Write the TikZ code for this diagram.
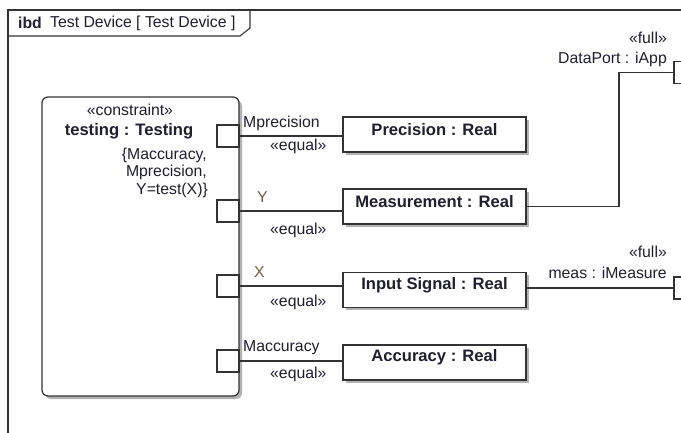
\documentclass[tikz,border=0pt]{standalone}
\usepackage{fontspec}
\setmainfont{Liberation Sans}
\usetikzlibrary{calc}
\definecolor{ln}{rgb}{0.2,0.2,0.2}
\definecolor{txt}{rgb}{0.12,0.12,0.18}
\definecolor{olive}{rgb}{0.42,0.38,0.25}
\tikzset{
  reg/.style={inner sep=0pt, text=txt, font=\fontsize{15.8}{18}\selectfont},
  bld/.style={inner sep=0pt, text=txt, font=\fontsize{16.6}{19}\selectfont\bfseries},
  valbox/.style={draw=ln, line width=1.2pt, fill=white, minimum width=183pt, minimum height=35pt, inner sep=0pt},
  portbox/.style={draw=ln, line width=1.1pt, fill=white, minimum width=22pt, minimum height=22pt, inner sep=0pt},
  conn/.style={draw=ln, line width=1.1pt},
  shadowfill/.style={fill=black!30, draw=none}
}
\begin{document}
\begin{tikzpicture}[x=1pt,y=-1pt]
\useasboundingbox (0,0) rectangle (681,432);
\clip (0,0) rectangle (681,432);
\fill[white] (0,0) rectangle (681,432);
% frame
\draw[ln, line width=1.1pt] (8,445) -- (8,10) -- (695,10);
\draw[ln, line width=1.1pt] (8,36) -- (240,36) -- (250,28) -- (250,10);
\node[bld, anchor=west, font=\fontsize{15.8}{18}\selectfont\bfseries] (ibd) at (18,23) {ibd};
\node[reg, anchor=west] (title) at (50,23) {Test Device [ Test Device ]};
% constraint block
\fill[shadowfill, rounded corners=6pt] (45,100) rectangle (242,399);
\draw[ln, line width=1.2pt, fill=white, rounded corners=6pt] (42,97) rectangle (239,396);
\node[reg] (stereo) at (130,110) {«constraint»};
\node[bld] (cname) at (129,131) {testing : Testing};
\node[reg, anchor=east] (c1) at (207,155) {\{Maccuracy,};
\node[reg, anchor=east] (c2) at (207,172) {Mprecision,};
\node[reg, anchor=east] (c3) at (208,190) {Y=test(X)\}};
% ports on constraint
\node[portbox] (p1) at (228,136) {};
\node[portbox] (p2) at (228,211) {};
\node[portbox] (p3) at (228,286) {};
\node[portbox] (p4) at (228,361) {};
% value boxes with shadows
\foreach \yy in {117,189,272,345} {
  \fill[shadowfill] (346,\yy+3) rectangle (529,\yy+38);
}
\node[valbox] (prec) at (434.5,134.5) {};
\node[valbox] (meas) at (434.5,206.5) {};
\node[valbox] (inp) at (434.5,290) {};
\node[valbox] (acc) at (434.5,362.5) {};
\node[bld] (tprec) at ($(prec.north)+(0,13)$) {Precision : Real};
\node[bld] (tmeas) at ($(meas.north)+(0,13)$) {Measurement : Real};
\node[bld] (tinp) at ($(inp.north)+(0,13)$) {Input Signal : Real};
\node[bld] (tacc) at ($(acc.north)+(0,13)$) {Accuracy : Real};
% connectors
\draw[conn] (p1.east) -- (p1.east -| prec.west);
\draw[conn] (p2.east) -- (p2.east -| meas.west);
\draw[conn] (p3.east) -- (p3.east -| inp.west);
\draw[conn] (p4.east) -- (p4.east -| acc.west);
% labels on connectors
\node[reg, anchor=west] (l1) at (243,123) {Mprecision};
\node[reg, anchor=west] (e1) at (270,146) {«equal»};
\node[reg, anchor=west, text=olive] (l2) at (257,197) {Y};
\node[reg, anchor=west] (e2) at (270,230) {«equal»};
\node[reg, anchor=west, text=olive] (l3) at (254,272) {X};
\node[reg, anchor=west] (e3) at (270,302) {«equal»};
\node[reg, anchor=west] (l4) at (243,348) {Maccuracy};
\node[reg, anchor=west] (e4) at (270,374) {«equal»};
% boundary ports
\node[portbox] (dport) at (685,72.5) {};
\node[portbox] (iport) at (685,288) {};
\coordinate (bend) at (619,206.5);
\draw[conn] (meas.east) -- (bend) |- (dport.west);
\draw[conn] (iport.west -| inp.east) -- (iport.west);
\node[reg, anchor=east] (f1) at (667,38) {«full»};
\node[reg, anchor=east] (dpl) at (667,59) {DataPort : iApp};
\node[reg, anchor=east] (f2) at (667,252) {«full»};
\node[reg, anchor=east] (mpl) at (667,273) {meas : iMeasure};
\end{tikzpicture}
\end{document}
